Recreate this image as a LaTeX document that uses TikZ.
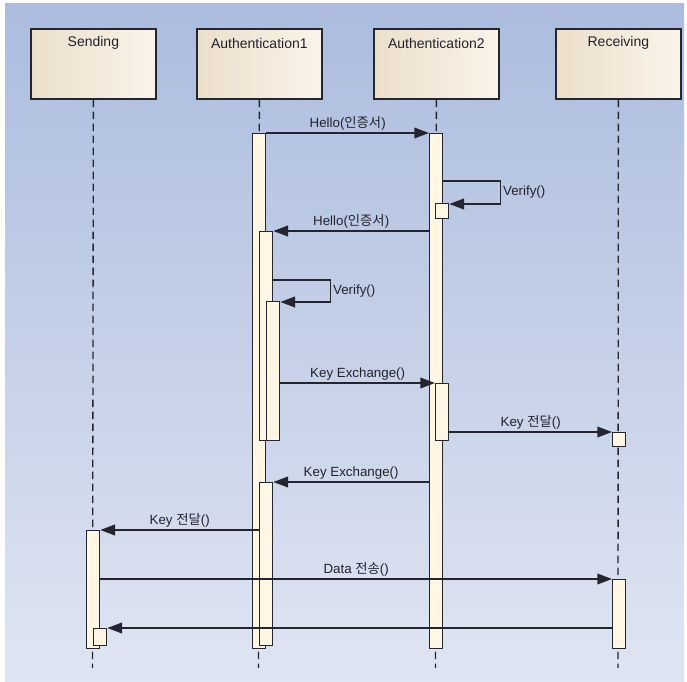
\documentclass[tikz,border=0pt]{standalone}
\usepackage{fontspec}
\setmainfont{Liberation Sans}
\newfontfamily\kr{Noto Sans CJK KR}
\usetikzlibrary{arrows.meta,calc}
\definecolor{ln}{HTML}{25252F}
\definecolor{barfill}{HTML}{FFF7E4}
\definecolor{bgtop}{HTML}{ABBCDE}
\definecolor{bgbot}{HTML}{DFE5F2}
\definecolor{hdleft}{HTML}{ECDFCB}
\definecolor{hdright}{HTML}{FBF4EA}
\definecolor{txt}{HTML}{22222C}
\begin{document}
\begin{tikzpicture}[x=0.75pt,y=-0.75pt,
  hdbox/.style={draw=ln,line width=1.3pt,left color=hdleft,right color=hdright,
    minimum width=93.75pt,minimum height=52.5pt,inner sep=0,anchor=north west},
  hdtext/.style={text=txt,font=\fontsize{10.5}{12}\selectfont,inner sep=0},
  life/.style={draw=ln,line width=1pt,dash pattern=on 5.5pt off 3.5pt},
  actbar/.style={draw=ln,line width=1pt,fill=barfill,inner sep=0,
    minimum width=9.75pt,anchor=north west},
  msg/.style={draw=ln,line width=1.2pt,-{Triangle[length=11pt,width=8pt]}},
  lbl/.style={text=txt,font=\fontsize{10}{12}\selectfont,inner sep=1.5pt}]
\useasboundingbox (0,0) rectangle (687,682);
\fill[white] (0,0) rectangle (687,682);
\fill[top color=bgtop,bottom color=bgbot] (5,3) rectangle (684,682);

% header boxes
\node[hdbox] (hs) at (30,28) {};
\node[hdbox] (ha1) at (196,28) {};
\node[hdbox] (ha2) at (373,28) {};
\node[hdbox] (hr) at (555,28) {};
\node[hdtext] at ($(hs.north)+(0,15)$) {Sending};
\node[hdtext] at ($(ha1.north)+(0,15)$) {Authentication1};
\node[hdtext] at ($(ha2.north)+(0,15)$) {Authentication2};
\node[hdtext] at ($(hr.north)+(0,15)$) {Receiving};

% lifeline ends
\coordinate (es) at (92.5,668);
\coordinate (ea1) at (258.5,668);
\coordinate (ea2) at (435.5,668);
\coordinate (er) at (618,668);
\draw[life] (hs.south) -- (es);
\draw[life] (ha1.south) -- (ea1);
\draw[life] (ha2.south) -- (ea2);
\draw[life] (hr.south) -- (er);

% activation bars
\node[actbar,minimum height=386.25pt] (a1) at (252,133) {};
\node[actbar,minimum height=386.25pt] (a2) at (429,133) {};
\node[actbar,minimum height=11.25pt] (a2v) at (435,203) {};
\node[actbar,minimum height=156.75pt] (n1) at (259,231) {};
\node[actbar,minimum height=104.25pt] (n2) at (266,301) {};
\node[actbar,minimum height=42.75pt] (a2k) at (435,383) {};
\node[actbar,minimum height=10.5pt] (rk) at (612,432) {};
\node[actbar,minimum height=122.25pt] (n3) at (259,482) {};
\node[actbar,minimum height=88.5pt] (sb) at (86,530) {};
\node[actbar,minimum height=12.75pt] (ss) at (93,628) {};
\node[actbar,minimum height=51.75pt] (rb) at (612,579) {};

% messages
\draw[msg] (a1.north east) -- node[lbl,above]{Hello({\kr 인증서})} (a2.north west);
\draw[msg] ($(a2.east |- a2v.north)+(0,-22)$) -- ++(57,0)
  |- node[pos=0.25,right,lbl]{Verify()} ($(a2v.north east)+(0,1)$);
\draw[msg] (a2.west |- n1.north) -- node[lbl,above]{Hello({\kr 인증서})} (n1.north east);
\draw[msg] ($(n1.east |- n2.north)+(0,-21)$) -- ++(57,0)
  |- node[pos=0.25,right,lbl]{Verify()} ($(n2.north east)+(0,1)$);
\draw[msg] (n2.east |- a2k.north) -- node[lbl,above]{Key Exchange()} (a2k.north west);
\draw[msg] (a2k.east |- rk.north) -- node[lbl,above]{Key {\kr 전달}()} (rk.north west);
\draw[msg] (a2.west |- n3.north) -- node[lbl,above]{Key Exchange()} (n3.north east);
\draw[msg] (n3.west |- sb.north) -- node[lbl,above]{Key {\kr 전달}()} (sb.north east);
\draw[msg] (sb.east |- rb.north) -- node[lbl,above]{Data {\kr 전송}()} (rb.north west);
\draw[msg] (rb.west |- ss.north) -- (ss.north east);
\end{tikzpicture}
\end{document}
